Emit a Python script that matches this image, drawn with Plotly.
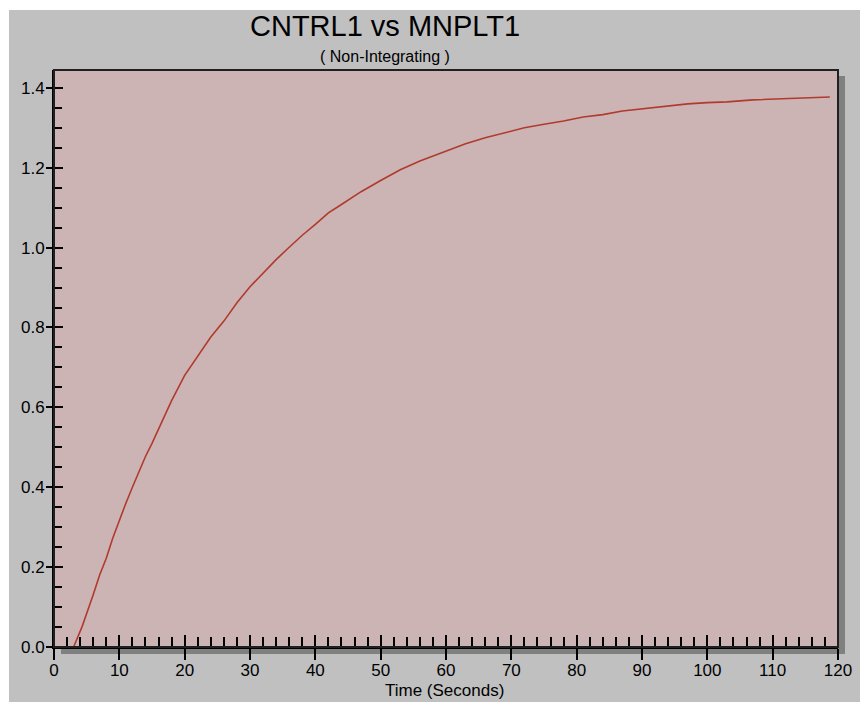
import plotly.graph_objects as go

# ---- data ----
time_s = [1, 3, 4.3, 5, 6, 7, 8, 9, 10, 11, 12, 13, 14, 15, 16, 17, 18, 20, 22, 24,
          26, 28, 30, 32, 34, 36, 38, 40, 42, 44, 47, 50, 53, 56, 60, 63, 66, 69, 72,
          75, 78, 81, 84, 87, 90, 94, 97, 100, 103, 107, 111, 116, 118.75]
cntrl1 = [0.0, 0.0, 0.051, 0.082, 0.131, 0.181, 0.222, 0.273, 0.318, 0.360, 0.400,
          0.440, 0.477, 0.510, 0.545, 0.578, 0.617, 0.680, 0.729, 0.776, 0.816, 0.862,
          0.902, 0.937, 0.970, 1.001, 1.031, 1.058, 1.087, 1.108, 1.140, 1.168, 1.195,
          1.217, 1.242, 1.260, 1.275, 1.287, 1.300, 1.309, 1.317, 1.327, 1.333, 1.342,
          1.347, 1.355, 1.360, 1.363, 1.365, 1.370, 1.373, 1.376, 1.377]

title_text = "CNTRL1 vs MNPLT1"
subtitle_text = "( Non-Integrating )"
x_label = "Time (Seconds)"
x_range = [0, 120]
y_range = [0, 1.4447]

OX, OY = 9, 10  # page offset of the figure (white strip at top / left)
W, H = 860, 702
L, T = 54 - OX, 70 - OY
R = W - (838 - OX)
B = H - (647 - OY)
PW, PH = W - L - R, H - T - B


def px(x):  # page pixel x -> paper x
    return (x - OX - L) / PW


def py(y):  # page pixel y -> paper y
    return (H - B - (y - OY)) / PH


FONT = "Liberation Sans, Arial, sans-serif"

fig = go.Figure()
fig.add_trace(go.Scatter(x=time_s, y=cntrl1, mode="lines",
                         line=dict(color="#B03A2E", width=1.6),
                         hoverinfo="skip", showlegend=False))
# dummy trace to activate overlay axes used for crossing ticks
fig.add_trace(go.Scatter(x=[0], y=[0], mode="markers", marker=dict(opacity=0),
                         xaxis="x2", yaxis="y2", hoverinfo="skip", showlegend=False))

tickfont = dict(family=FONT, size=17, color="black")

fig.update_layout(
    width=W, height=H, autosize=False,
    margin=dict(l=L, r=R, t=T, b=B),
    paper_bgcolor="#C0C0C0",
    plot_bgcolor="#CCB4B4",
    showlegend=False,
    xaxis=dict(range=x_range, dtick=10, tick0=0, ticks="outside", ticklen=11,
               tickwidth=2, tickcolor="black", showline=True, linecolor="black",
               linewidth=2, showgrid=False, zeroline=False, tickfont=tickfont,
               ticklabelstandoff=-4, fixedrange=True),
    yaxis=dict(range=y_range, dtick=0.2, tick0=0, tickformat=".1f", ticks="outside",
               ticklen=6, tickwidth=2, tickcolor="black", showline=True,
               linecolor="black", linewidth=2, showgrid=False, zeroline=False,
               tickfont=tickfont, ticklabelstandoff=-2, fixedrange=True),
    xaxis2=dict(range=x_range, overlaying="x", anchor="y2", side="bottom",
                dtick=10, tick0=0, ticks="inside", ticklen=12, tickwidth=2,
                tickcolor="black", showticklabels=False, showline=False,
                showgrid=False, zeroline=False,
                minor=dict(dtick=2, tick0=0, ticks="inside", ticklen=10,
                           tickwidth=2, tickcolor="black", showgrid=False)),
    yaxis2=dict(range=y_range, overlaying="y", anchor="x2", side="left",
                dtick=0.2, tick0=0, ticks="inside", ticklen=9, tickwidth=2,
                tickcolor="black", showticklabels=False, showline=False,
                showgrid=False, zeroline=False,
                minor=dict(dtick=0.05, tick0=0, ticks="inside", ticklen=8,
                           tickwidth=2, tickcolor="black", showgrid=False)),
)

shapes = [
    # drop shadow
    dict(type="rect", xref="paper", yref="paper", x0=px(839), x1=px(845), y0=py(654), y1=py(76),
         fillcolor="#808080", line=dict(width=0), layer="below"),
    dict(type="rect", xref="paper", yref="paper", x0=px(61), x1=px(845), y0=py(654), y1=py(648),
         fillcolor="#808080", line=dict(width=0), layer="below"),
    # plot frame
    dict(type="rect", xref="paper", yref="paper", x0=0, x1=1, y0=0, y1=1,
         line=dict(color="#202020", width=2), fillcolor="rgba(0,0,0,0)", layer="above"),
]
fig.update_layout(shapes=shapes)

fig.add_annotation(text=title_text, xref="paper", yref="paper", x=px(385), y=py(26),
                   xanchor="center", yanchor="middle", showarrow=False,
                   font=dict(family=FONT, size=29, color="black"))
fig.add_annotation(text=subtitle_text, xref="paper", yref="paper", x=px(385), y=py(57),
                   xanchor="center", yanchor="middle", showarrow=False,
                   font=dict(family=FONT, size=16, color="black"))
fig.add_annotation(text=x_label, xref="paper", yref="paper", x=px(444), y=py(690),
                   xanchor="center", yanchor="middle", showarrow=False,
                   font=dict(family=FONT, size=17, color="black"))

fig.write_html(
    "out.html",
    post_script=(
        "var b=document.body, h=document.documentElement;"
        "h.style.background='#C0C0C0';"
        "b.style.background='#C0C0C0';"
        "b.style.margin='0';"
        "b.style.borderTop='%dpx solid white';"
        "b.style.borderLeft='%dpx solid white';"
        "b.style.minHeight='800px';"
        "b.style.overflow='hidden';"
        "h.style.overflow='hidden';" % (OY, OX)
    ),
)
